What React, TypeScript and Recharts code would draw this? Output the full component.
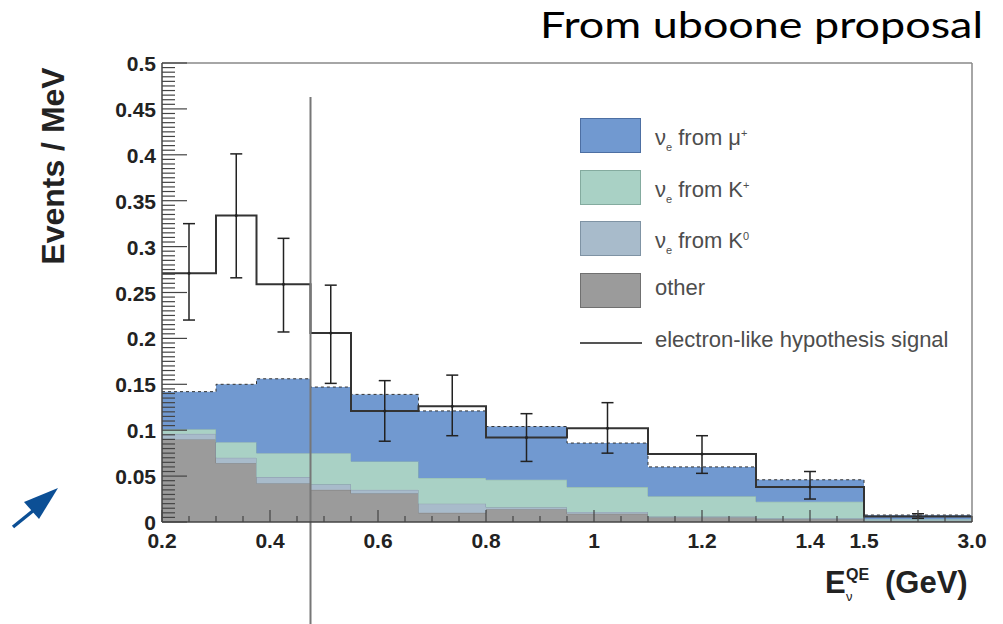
import React from "react";
import {
  ComposedChart,
  Area,
  Line,
  Scatter,
  ErrorBar,
  XAxis,
  YAxis,
  ReferenceLine,
} from "recharts";

// bin edges in GeV (last bin 1.5-3.0 is drawn compressed)
const binEdges = [0.2, 0.3, 0.375, 0.475, 0.55, 0.675, 0.8, 0.95, 1.1, 1.3, 1.5, 3.0];

// stacked backgrounds, events / MeV per bin
const otherBkg = [0.09, 0.064, 0.042, 0.035, 0.031, 0.01, 0.014, 0.009, 0.005, 0.003, 0.001];
const nueFromK0 = [0.006, 0.006, 0.007, 0.006, 0.004, 0.01, 0.002, 0.002, 0.001, 0.001, 0.0005];
const nueFromKplus = [0.005, 0.017, 0.026, 0.034, 0.031, 0.028, 0.03, 0.027, 0.022, 0.018, 0.0015];
const nueFromMu = [0.041, 0.063, 0.081, 0.072, 0.073, 0.073, 0.058, 0.048, 0.032, 0.024, 0.0046];

// electron-like hypothesis signal and its error band
const hypothesis = [0.271, 0.334, 0.259, 0.206, 0.121, 0.126, 0.092, 0.102, 0.074, 0.038, 0.006];
const errLow = [0.22, 0.266, 0.207, 0.151, 0.088, 0.094, 0.066, 0.075, 0.053, 0.025, 0.004];
const errHigh = [0.325, 0.401, 0.309, 0.258, 0.154, 0.16, 0.118, 0.13, 0.094, 0.055, 0.009];

const xTickValues = [0.2, 0.4, 0.6, 0.8, 1.0, 1.2, 1.4, 1.5, 3.0];
const xTickLabels = ["0.2", "0.4", "0.6", "0.8", "1", "1.2", "1.4", "1.5", "3.0"];
const yTickLabels = ["0", "0.05", "0.1", "0.15", "0.2", "0.25", "0.3", "0.35", "0.4", "0.45", "0.5"];

const cutEnergy = 0.475;

// axis coordinate: linear up to 1.5 GeV, last bin squeezed into 0.2 units
const toAxis = (e: number) => (e <= 1.5 ? e : 1.5 + ((e - 1.5) * 0.2) / 1.5);

const histData = binEdges.map((e, i) => {
  const b = Math.min(i, otherBkg.length - 1);
  return {
    x: toAxis(e),
    other: otherBkg[b],
    k0: nueFromK0[b],
    kplus: nueFromKplus[b],
    mu: nueFromMu[b],
    hyp: hypothesis[b],
  };
});

const pointData = hypothesis.map((h, i) => ({
  x: (toAxis(binEdges[i]) + toAxis(binEdges[i + 1])) / 2,
  y: h,
  err: [h - errLow[i], errHigh[i] - h],
}));

const xMinorTicks: number[] = [];
for (let k = 0; k <= 30; k++) xMinorTicks.push(Math.round((0.2 + k * 0.05) * 100) / 100);
const yMinorTicks: number[] = [];
for (let k = 0; k <= 100; k++) yMinorTicks.push(Math.round(k * 5) / 1000);

const COLORS = {
  mu: "#7199d0",
  kplus: "#a9d1c5",
  k0: "#a8bbcb",
  other: "#9b9b9b",
};

const tickFont = { fontFamily: "'Liberation Sans', Arial, sans-serif", fontWeight: 700, fontSize: 21, fill: "#222" };

const XTick = (props: any) => {
  const { x, y, payload } = props;
  const v = Math.round(payload.value * 100);
  const major = v % 20 === 0;
  const idx = xTickValues.findIndex((t) => Math.abs(toAxis(t) * 100 - v) < 0.5);
  return (
    <g>
      <line x1={x} x2={x} y1={y} y2={y - (major ? 12 : 6)} stroke="#444" strokeWidth={1.2} />
      {idx >= 0 && (
        <text x={x} y={y + 26} textAnchor="middle" {...tickFont}>
          {xTickLabels[idx]}
        </text>
      )}
    </g>
  );
};

const YTick = (props: any) => {
  const { x, y, payload } = props;
  const v = Math.round(payload.value * 1000);
  const major = v % 50 === 0;
  return (
    <g>
      <line x1={x} x2={x + (major ? 25 : 13)} y1={y} y2={y} stroke="#444" strokeWidth={1.2} />
      {major && (
        <text x={x - 6} y={y + 8} textAnchor="end" {...tickFont}>
          {yTickLabels[v / 50]}
        </text>
      )}
    </g>
  );
};

const legendItems = [
  { color: COLORS.mu, border: "#4d6fa3", label: <>ν<sub style={{ fontSize: 11 }}>e</sub> from μ<sup style={{ fontSize: 11 }}>+</sup></> },
  { color: COLORS.kplus, border: "#84ab9f", label: <>ν<sub style={{ fontSize: 11 }}>e</sub> from K<sup style={{ fontSize: 11 }}>+</sup></> },
  { color: COLORS.k0, border: "#7f93a4", label: <>ν<sub style={{ fontSize: 11 }}>e</sub> from K<sup style={{ fontSize: 11 }}>0</sup></> },
  { color: COLORS.other, border: "#707070", label: <>other</> },
];

export default function App() {
  return (
    <div style={{ position: "absolute", left: 0, top: 0, width: 1003, height: 624, background: "#fff", overflow: "hidden" }}>
      <ComposedChart width={1003} height={624} data={histData} margin={{ top: 63, right: 31, left: 100, bottom: 62 }}>
        <Area type="stepAfter" dataKey="other" stackId="bkg" fill={COLORS.other} fillOpacity={1} stroke="#7a7a7a" strokeWidth={1} isAnimationActive={false} />
        <Area type="stepAfter" dataKey="k0" stackId="bkg" fill={COLORS.k0} fillOpacity={1} stroke="#8799a8" strokeWidth={1} isAnimationActive={false} />
        <Area type="stepAfter" dataKey="kplus" stackId="bkg" fill={COLORS.kplus} fillOpacity={1} stroke="#8fb5a9" strokeWidth={1} isAnimationActive={false} />
        <Area type="stepAfter" dataKey="mu" stackId="bkg" fill={COLORS.mu} fillOpacity={1} stroke="#333" strokeWidth={1} strokeDasharray="3 3" isAnimationActive={false} />
        <Line type="stepAfter" dataKey="hyp" stroke="#333" strokeWidth={2} dot={false} isAnimationActive={false} />
        <Scatter data={pointData} dataKey="y" fill="#222" shape={(p: any) => <circle cx={p.cx} cy={p.cy} r={1.5} fill="#222" />} isAnimationActive={false}>
          <ErrorBar dataKey="err" direction="y" width={6} stroke="#222" strokeWidth={1.5} isAnimationActive={false} />
        </Scatter>
        <ReferenceLine y={0.5} stroke="#888" strokeWidth={1.5} />
        <ReferenceLine x={1.7} stroke="#888" strokeWidth={1.5} />
        <ReferenceLine
          segment={[{ x: toAxis(cutEnergy), y: 0.463 }, { x: toAxis(cutEnergy), y: -0.12 }]}
          ifOverflow="visible"
          stroke="#777"
          strokeWidth={2}
        />
        <XAxis
          dataKey="x"
          type="number"
          domain={[0.2, 1.7]}
          allowDataOverflow
          ticks={xMinorTicks}
          interval={0}
          tickSize={0}
          tickMargin={0}
          height={40}
          axisLine={{ stroke: "#444", strokeWidth: 1.5 }}
          tick={<XTick />}
        />
        <YAxis
          type="number"
          domain={[0, 0.5]}
          allowDataOverflow
          ticks={yMinorTicks}
          interval={0}
          tickSize={0}
          tickMargin={0}
          width={62}
          axisLine={{ stroke: "#444", strokeWidth: 1.5 }}
          tick={<YTick />}
        />
      </ComposedChart>

      {/* legend */}
      <div style={{ position: "absolute", left: 580, top: 118, fontFamily: "'Liberation Sans', Arial, sans-serif", fontSize: 22, color: "#4d4d4d" }}>
        {legendItems.map((it, i) => (
          <div key={i} style={{ position: "absolute", left: 0, top: i * 51.7, width: 400, height: 36 }}>
            <div style={{ position: "absolute", left: 0, top: 0, width: 59, height: 33, background: it.color, border: `1.5px solid ${it.border}` }} />
            <div style={{ position: "absolute", left: 75, top: 2, whiteSpace: "nowrap", lineHeight: "26px" }}>{it.label}</div>
          </div>
        ))}
        <div style={{ position: "absolute", left: 0, top: 224, width: 62, height: 2, background: "#555" }} />
        <div style={{ position: "absolute", left: 75, top: 209, whiteSpace: "nowrap", lineHeight: "26px" }}>electron-like hypothesis signal</div>
      </div>

      <svg width={1003} height={624} style={{ position: "absolute", left: 0, top: 0, pointerEvents: "none" }}>
        <text x={540} y={38} fontFamily="Lato, 'Open Sans', sans-serif" fontSize={37} fill="#000" textLength={443} lengthAdjust="spacingAndGlyphs">
          From uboone proposal
        </text>
        <text transform="translate(64,166) rotate(-90)" textAnchor="middle" fontFamily="'Liberation Sans', Arial, sans-serif" fontWeight={700} fontSize={32} fill="#222">
          Events / MeV
        </text>
        <g fontFamily="'Liberation Sans', Arial, sans-serif" fontWeight={700} fill="#222">
          <text x={825} y={593} fontSize={31}>E</text>
          <text x={846} y={580} fontSize={16}>QE</text>
          <text x={846} y={601} fontSize={13} fontWeight={400}>ν</text>
          <text x={885} y={593} fontSize={31}>(GeV)</text>
        </g>
        <line x1={13} y1={527} x2={34} y2={510} stroke="#0c4f95" strokeWidth={3.5} />
        <polygon points="58,488 24,502 39,519" fill="#0c4f95" />
      </svg>
    </div>
  );
}
